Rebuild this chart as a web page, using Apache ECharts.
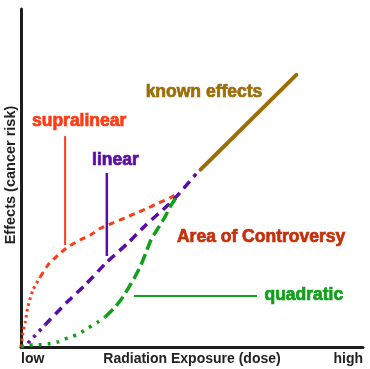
<!DOCTYPE html>
<html>
<head>
<meta charset="utf-8">
<script src="https://cdn.jsdelivr.net/npm/echarts@6/dist/echarts.min.js"></script>
<style>html,body{margin:0;padding:0;background:#fff;}#c{width:370px;height:369px;}</style>
</head>
<body>
<div id="c"></div>
<script>
// ---- data ----
const xTickLabels = ['low', 'high'];
const xAxisName = 'Radiation Exposure (dose)';
const yAxisName = 'Effects (cancer risk)';

// supralinear (dotted low part, dashed upper part)
const supraLow = [[0,0],[0.3,2.1],[0.6,4.5],[1.2,7.1],[2.0,11.8],[3.5,16.9],[5.6,20.7]];
const supraHigh = [[5.6,20.7],[7.9,24.3],[10.8,27.2],[13.7,29.6],[17.3,31.7],[20.2,33.1],[23.4,35.2],[26.9,36.7],[30.4,38.2],[33.6,39.6],[37.1,41.1],[40.1,42.6],[43.6,44.1],[45.9,45.6]];
// linear
const linearLow = [[0,0],[2.0,1.2],[7.0,6.5]];
const linearHigh = [[7.0,6.5],[13.2,13.0],[19.0,18.6],[24.9,24.9],[31.3,30.8],[36.5,36.1],[43.0,42.0],[45.9,45.0],[51.2,51.2]];
// quadratic
const quadLow = [[0,0],[1.5,0.6],[4.4,0.6],[7.9,0.9],[10.8,1.5],[13.7,2.7],[16.7,3.8],[19.6,5.6],[22.5,7.4],[24.6,8.9]];
const quadHigh = [[24.6,8.9],[27.5,11.8],[29.8,14.8],[31.9,18.3],[33.3,20.7],[35.1,24.3],[36.5,27.8],[38.0,31.7],[40.1,35.2],[42.1,38.5],[43.9,42.0],[45.9,45.0]];
// known effects
const known = [[52.5,52.5],[80.5,80.5]];
// pointer lines
const supraPointer = [[12.9,62.4],[12.9,30.2]];
const linearPointer = [[25.1,51.5],[25.1,26.9]];
const quadPointer = [[33.0,15.1],[69.0,15.1]];
// annotation texts
const labelTexts = ['known effects','supralinear','linear','Area of Controversy','quadratic'];

const RED = '#ff3a14', PURPLE = '#5a0ca6', GREEN = '#10a01a', GOLD = '#9b6e08', AREA = '#c52f0a', AX = '#1e1e1e';
const FONT = 'Liberation Sans, Arial, Helvetica, sans-serif';

function lineSeries(data, color, width, dash, cap) {
  return {
    type: 'line', data: data, smooth: 0.2, symbol: 'none', silent: true,
    lineStyle: { color: color, width: width, type: dash, cap: cap || 'butt', opacity: 1 },
    z: 3
  };
}

const annos = [
  { t: labelTexts[0], x: 53.5, y: 75.3, c: GOLD },
  { t: labelTexts[1], x: 17.0, y: 66.8, c: RED },
  { t: labelTexts[2], x: 27.6, y: 55.2, c: PURPLE },
  { t: labelTexts[3], x: 70.2, y: 32.6, c: AREA },
  { t: labelTexts[4], x: 82.7, y: 15.3, c: GREEN }
];

const chart = echarts.init(document.getElementById('c'), null, { renderer: 'canvas' });
chart.setOption({
  backgroundColor: '#fff',
  animation: false,
  grid: { left: 21, right: 7, top: 9, bottom: 22, containLabel: false, outerBoundsMode: 'none' },
  xAxis: {
    type: 'value', min: 0, max: 100, interval: 100,
    name: xAxisName, nameLocation: 'middle', nameGap: 5, nameMoveOverlap: false,
    nameTextStyle: { fontFamily: FONT, fontWeight: 'bold', fontSize: 14, color: '#222', verticalAlign: 'top' },
    axisLine: { show: true, lineStyle: { color: AX, width: 3 } },
    axisTick: { show: false },
    splitLine: { show: false },
    axisLabel: {
      show: true, margin: 5, alignMinLabel: 'left', alignMaxLabel: 'right',
      fontFamily: FONT, fontWeight: 'bold', fontSize: 14, color: '#222',
      formatter: function (v) { return v === 0 ? xTickLabels[0] : xTickLabels[1]; }
    }
  },
  yAxis: {
    type: 'value', min: 0, max: 100,
    name: yAxisName, nameLocation: 'middle', nameRotate: 90, nameGap: 3,
    nameTextStyle: { fontFamily: FONT, fontWeight: 'bold', fontSize: 14.5, color: '#222', padding: [0, 0, 0, 6] },
    axisLine: { show: true, lineStyle: { color: AX, width: 3 } },
    axisTick: { show: false },
    splitLine: { show: false },
    axisLabel: { show: false }
  },
  series: [
    lineSeries(supraLow, RED, 3, [2.5, 3.5]),
    lineSeries(supraHigh, RED, 3, [6, 5]),
    lineSeries(linearLow, PURPLE, 3.5, [3, 5]),
    lineSeries(linearHigh, PURPLE, 3.5, [9, 6]),
    lineSeries(quadLow, GREEN, 3.5, [3, 6]),
    lineSeries(quadHigh, GREEN, 3.5, [11, 5]),
    lineSeries(known, GOLD, 4, 'solid', 'round'),
    lineSeries(supraPointer, RED, 2, 'solid'),
    lineSeries(linearPointer, PURPLE, 2.5, 'solid'),
    lineSeries(quadPointer, GREEN, 2, 'solid'),
    {
      type: 'scatter', symbolSize: 0, silent: true, z: 5,
      itemStyle: { opacity: 1 },
      data: annos.map(function (a) {
        return {
          value: [a.x, a.y],
          itemStyle: { opacity: 1 },
          label: {
            show: true, position: 'inside', formatter: a.t, opacity: 1,
            fontFamily: FONT, fontWeight: 'bold', fontSize: 17.5, color: a.c,
            textBorderColor: a.c, textBorderWidth: 0.7
          }
        };
      })
    }
  ]
});
</script>
</body>
</html>
